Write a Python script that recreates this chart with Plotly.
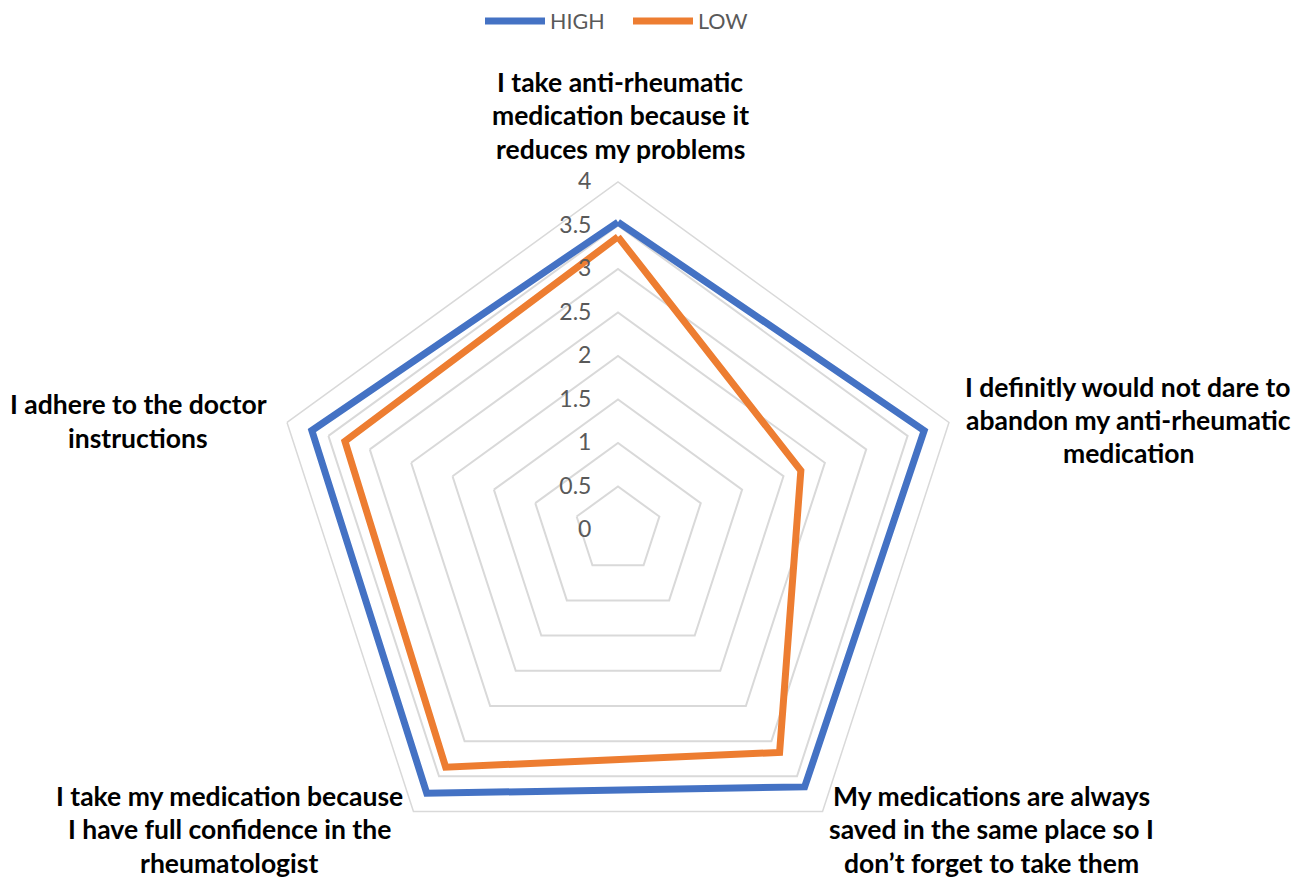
import plotly.graph_objects as go

categories = [
    "I take anti-rheumatic medication because it reduces my problems",
    "I definitly would not dare to abandon my anti-rheumatic medication",
    "My medications are always saved in the same place so I don’t forget to take them",
    "I take my medication because I have full confidence in the rheumatologist",
    "I adhere to the doctor instructions",
]
label_lines = [
    ["I take anti-rheumatic", "medication because it", "reduces my problems"],
    ["I definitly would not dare to", "abandon my anti-rheumatic", "medication"],
    ["My medications are always", "saved in the same place so I", "don’t forget to take them"],
    ["I take my medication because", "I have full confidence in the", "rheumatologist"],
    ["I adhere to the doctor", "instructions"],
]
high_values = [3.54, 3.70, 3.65, 3.74, 3.70]
low_values = [3.37, 2.21, 3.16, 3.37, 3.30]
radial_ticks = [0, 0.5, 1, 1.5, 2, 2.5, 3, 3.5, 4]

W, H = 1297, 878
cx, cy, R = 618, 530, 348

fig = go.Figure()
for name, vals, color in [("HIGH", high_values, "#4472C4"), ("LOW", low_values, "#ED7D31")]:
    fig.add_trace(go.Scatterpolar(
        r=vals + [vals[0]],
        theta=categories + [categories[0]],
        mode="lines",
        name=name,
        line=dict(color=color, width=7),
        hoverinfo="skip",
    ))

# label positions (pixel centres of each text block)
label_pos = [(620, 115), (1128, 420), (991, 829), (229, 829), (138, 421)]
line_gap = 33.5
annotations = []
for lines, (px, py) in zip(label_lines, label_pos):
    n = len(lines)
    for i, t in enumerate(lines):
        yy = py + (i - (n - 1) / 2) * line_gap
        annotations.append(dict(
            x=px / W, y=1 - yy / H, xref="paper", yref="paper",
            text=t, showarrow=False, xanchor="center", yanchor="middle",
            font=dict(family="Lato", size=26.5, color="#000000", weight="bold"),
        ))

fig.update_layout(
    width=W, height=H,
    margin=dict(l=0, r=0, t=0, b=0),
    paper_bgcolor="white",
    plot_bgcolor="white",
    showlegend=True,
    legend=dict(
        orientation="h", x=480 / W, xanchor="left", y=1 - 21 / H, yanchor="middle",
        font=dict(family="Lato", size=21.5, color="#595959"),
        itemwidth=60, entrywidth=73, entrywidthmode="pixels",
    ),
    polar=dict(
        domain=dict(x=[(cx - R) / W, (cx + R) / W], y=[1 - (cy + R) / H, 1 - (cy - R) / H]),
        bgcolor="white",
        gridshape="linear",
        radialaxis=dict(
            range=[0, 4], tickvals=radial_ticks, ticktext=[f"{v:g}" for v in radial_ticks],
            angle=90, side="counterclockwise", tickangle=90,
            showline=False, gridcolor="#D9D9D9", gridwidth=1.5,
            ticks="outside", ticklen=18, tickcolor="rgba(0,0,0,0)",
            tickfont=dict(family="Lato", size=23, color="#595959"),
        ),
        angularaxis=dict(
            rotation=90, direction="clockwise",
            showgrid=False, showticklabels=False, ticks="",
            showline=True, linecolor="#D9D9D9", linewidth=1.5,
        ),
    ),
    annotations=annotations,
)

fig.write_html("out.html", config={"displayModeBar": False},
               post_script="document.body.style.margin='0px';")
